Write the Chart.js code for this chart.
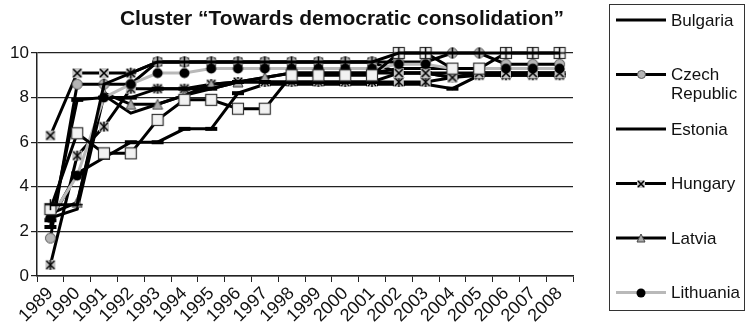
<!DOCTYPE html>
<html>
<head>
<meta charset="utf-8">
<script src="https://cdn.jsdelivr.net/npm/chart.js@4/dist/chart.umd.min.js"></script>
<style>
  html, body { margin: 0; padding: 0; background: #fff; }
  canvas { display: block; }
</style>
</head>
<body>
<canvas id="c" width="745" height="331"></canvas>
<script>
// Democracy scores (0–10) per year for the countries of the cluster
const years = ['1989','1990','1991','1992','1993','1994','1995','1996','1997','1998',
               '1999','2000','2001','2002','2003','2004','2005','2006','2007','2008'];

const bulgaria  = [2.2, 7.9, 8.0, 8.0, 8.4, 8.4, 8.4, 8.7, 8.7, 8.7, 8.7, 8.7, 8.7, 9.1, 9.1, 8.9, 9.1, 9.1, 9.1, 9.1];
const czech     = [1.7, 8.6, 8.6, 8.6, 9.6, 9.6, 9.6, 9.6, 9.6, 9.6, 9.6, 9.6, 9.6, 9.6, 9.6, 10.0, 10.0, 9.5, 9.5, 9.5];
const estonia   = [2.6, 3.0, 8.1, 7.3, 7.7, 8.1, 8.4, 8.7, 8.9, 9.1, 9.1, 9.1, 9.1, 9.3, 9.3, 9.3, 9.3, 9.3, 9.3, 9.3];
const hungary   = [6.3, 9.1, 9.1, 9.1, 9.6, 9.6, 9.6, 9.6, 9.6, 9.6, 9.6, 9.6, 9.6, 9.1, 9.1, 8.9, 9.1, 9.1, 9.1, 9.1];
const latvia    = [2.8, 3.3, 8.2, 7.7, 7.7, 8.1, 8.6, 8.7, 8.9, 9.1, 9.1, 9.1, 9.1, 9.1, 9.1, 9.1, 9.1, 9.1, 9.1, 9.1];
const lithuania = [2.6, 4.5, 8.0, 8.6, 9.1, 9.1, 9.3, 9.3, 9.3, 9.3, 9.3, 9.3, 9.3, 9.5, 9.5, 9.3, 9.3, 9.3, 9.3, 9.3];
const poland    = [3.0, 6.4, 5.5, 5.5, 7.0, 7.9, 7.9, 7.5, 7.5, 9.0, 9.0, 9.0, 9.0, 10.0, 10.0, 9.3, 9.3, 10.0, 10.0, 10.0];
const romania   = [0.5, 5.4, 6.7, 8.4, 8.4, 8.4, 8.6, 8.7, 8.7, 8.7, 8.7, 8.7, 8.7, 8.7, 8.7, 8.9, 9.0, 9.0, 9.0, 9.0];
const slovakia  = [2.5, 4.6, 5.3, 6.0, 6.0, 6.6, 6.6, 8.2, 8.6, 8.6, 8.6, 8.6, 8.6, 8.6, 8.6, 8.4, 9.0, 9.0, 9.0, 9.0];
const slovenia  = [3.2, 3.2, 8.6, 9.1, 9.6, 9.6, 9.6, 9.6, 9.6, 9.6, 9.6, 9.6, 9.6, 10.0, 10.0, 10.0, 10.0, 10.0, 10.0, 10.0];

const titleText = 'Cluster \u201CTowards democratic consolidation\u201D';
const legendNames = ['Bulgaria', 'Czech Republic', 'Estonia', 'Hungary', 'Latvia', 'Lithuania'];

const FONT = '"Liberation Sans", Arial, Helvetica, sans-serif';

// Small canvas-drawn point markers
function marker(kind, size) {
  const c = document.createElement('canvas');
  const n = size + 2;
  c.width = n; c.height = n;
  const g = c.getContext('2d');
  const m = n / 2, r = size / 2;
  g.lineCap = 'butt';
  const cross = (w) => {
    g.strokeStyle = '#000'; g.lineWidth = w;
    g.beginPath();
    g.moveTo(2, 2); g.lineTo(n - 2, n - 2);
    g.moveTo(n - 2, 2); g.lineTo(2, n - 2);
    g.stroke();
  };
  switch (kind) {
    case 'circleGray':
      g.beginPath(); g.arc(m, m, r - 0.5, 0, Math.PI * 2);
      g.fillStyle = '#b5b5b5'; g.fill();
      g.strokeStyle = '#555'; g.lineWidth = 1; g.stroke();
      break;
    case 'circleBlack':
      g.beginPath(); g.arc(m, m, r - 0.5, 0, Math.PI * 2);
      g.fillStyle = '#000'; g.fill();
      break;
    case 'xGray':
      g.fillStyle = '#c4c4c4'; g.fillRect(1, 1, size, size);
      cross(1.6);
      break;
    case 'starGray':
      g.fillStyle = '#c4c4c4'; g.fillRect(1, 1, size, size);
      cross(1.4);
      g.beginPath(); g.moveTo(m, 1); g.lineTo(m, n - 1); g.stroke();
      break;
    case 'triangleGray':
      g.beginPath(); g.moveTo(m, 1); g.lineTo(n - 1, n - 1); g.lineTo(1, n - 1); g.closePath();
      g.fillStyle = '#a9a9a9'; g.fill();
      g.strokeStyle = '#444'; g.lineWidth = 1; g.stroke();
      break;
    case 'square':
      g.fillStyle = '#f2f2f2'; g.fillRect(1, 1, size, size);
      g.strokeStyle = '#333'; g.lineWidth = 1.2; g.strokeRect(1.5, 1.5, size - 1, size - 1);
      break;
    case 'plus':
      g.strokeStyle = '#000'; g.lineWidth = 1.5;
      g.beginPath();
      g.moveTo(m, 1); g.lineTo(m, n - 1);
      g.moveTo(1, m); g.lineTo(n - 1, m);
      g.stroke();
      break;
    case 'dash':
      g.fillStyle = '#000'; g.fillRect(1, m - 2, size, 4);
      break;
  }
  return c;
}

const marks = {
  Bulgaria: marker('dash', 12),
  'Czech Republic': marker('circleGray', 11),
  Estonia: null,
  Hungary: marker('xGray', 10),
  Latvia: marker('triangleGray', 10),
  Lithuania: marker('circleBlack', 11),
  Poland: marker('square', 12),
  Romania: marker('starGray', 10),
  Slovakia: marker('dash', 12),
  Slovenia: marker('plus', 11)
};
const legendMarks = {
  'Czech Republic': marker('circleGray', 9),
  Hungary: marker('xGray', 8),
  Latvia: marker('triangleGray', 8),
  Lithuania: marker('circleBlack', 10)
};

function series(label, data, color, order) {
  const mk = marks[label];
  return {
    label, data,
    borderColor: color,
    backgroundColor: color,
    borderWidth: 3,
    pointStyle: mk || 'circle',
    pointRadius: mk ? 6 : 0,
    pointHoverRadius: mk ? 6 : 0,
    tension: 0,
    fill: false,
    clip: false,
    order
  };
}

function wrapText(ctx, text, maxW) {
  const words = text.split(' ');
  const lines = [];
  let cur = '';
  words.forEach(w => {
    const t = cur ? cur + ' ' + w : w;
    if (cur && ctx.measureText(t).width > maxW) { lines.push(cur); cur = w; }
    else cur = t;
  });
  if (cur) lines.push(cur);
  return lines;
}

// Title and boxed legend drawn beside the plot
const sidePanel = {
  id: 'sidePanel',
  afterDraw(chart) {
    const ctx = chart.ctx;
    ctx.save();
    ctx.font = 'bold 21px ' + FONT;
    ctx.fillStyle = '#111';
    ctx.textAlign = 'center';
    ctx.textBaseline = 'alphabetic';
    ctx.fillText(titleText, 342, 25);

    ctx.strokeStyle = '#333';
    ctx.lineWidth = 1;
    ctx.strokeRect(609.5, 4.5, 135, 306);

    ctx.font = '17px ' + FONT;
    ctx.textAlign = 'left';
    ctx.textBaseline = 'middle';
    legendNames.forEach((name, i) => {
      const ds = chart.data.datasets.find(d => d.label === name);
      const y = 20 + 54.5 * i;
      ctx.beginPath();
      ctx.moveTo(616, y); ctx.lineTo(666, y);
      ctx.strokeStyle = ds.borderColor; ctx.lineWidth = 3;
      ctx.stroke();
      const mk = legendMarks[name];
      if (mk) ctx.drawImage(mk, Math.round(641 - mk.width / 2), Math.round(y - mk.height / 2));
      ctx.fillStyle = '#111';
      wrapText(ctx, name, 76).forEach((line, k) => ctx.fillText(line, 671, y + 1 + k * 19));
    });
    ctx.restore();
  }
};

new Chart(document.getElementById('c'), {
  type: 'line',
  data: {
    labels: years,
    datasets: [
      series('Bulgaria', bulgaria, '#000', 5),
      series('Czech Republic', czech, '#000', 3),
      series('Estonia', estonia, '#000', 6),
      series('Hungary', hungary, '#000', 4),
      series('Latvia', latvia, '#000', 5),
      series('Lithuania', lithuania, '#b9b9b9', 2),
      series('Poland', poland, '#000', 1),
      series('Romania', romania, '#000', 6),
      series('Slovakia', slovakia, '#000', 7),
      series('Slovenia', slovenia, '#000', 0)
    ]
  },
  options: {
    responsive: false,
    animation: false,
    devicePixelRatio: 1,
    layout: { padding: { top: 53, right: 172, left: 0, bottom: 0 } },
    plugins: {
      legend: { display: false },
      title: { display: false },
      tooltip: { enabled: false }
    },
    scales: {
      x: {
        type: 'category',
        offset: true,
        grid: { offset: true, drawOnChartArea: false, drawTicks: true, tickLength: 6, color: '#222', lineWidth: 1 },
        border: { color: '#222', width: 1.5 },
        ticks: {
          color: '#111',
          font: { family: FONT, size: 18 },
          minRotation: 45, maxRotation: 45,
          autoSkip: false,
          padding: 1
        },
        afterFit(scale) { scale.height = 55; }
      },
      y: {
        min: 0, max: 10,
        grid: { color: '#222', lineWidth: 1.2, tickLength: 6 },
        border: { color: '#222', width: 1.5 },
        ticks: {
          stepSize: 2,
          color: '#111',
          font: { family: FONT, size: 17 },
          padding: 2
        },
        afterFit(scale) { scale.width = 37; }
      }
    }
  },
  plugins: [sidePanel]
});
</script>
</body>
</html>
